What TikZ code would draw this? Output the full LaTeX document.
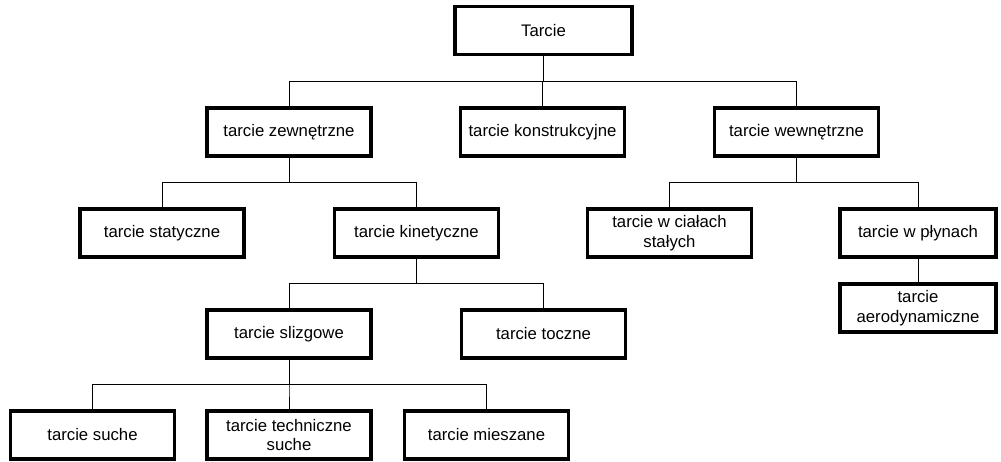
\documentclass[tikz,border=0pt]{standalone}
\usepackage{fontspec}
\setmainfont{Liberation Sans}
\usepackage{tikz}
\usetikzlibrary{calc}

\begin{document}
\begin{tikzpicture}[x=0.025cm,y=-0.025cm,
  box/.style={draw,line width=2.5pt,align=center,font=\fontsize{11.9}{14.2}\selectfont,minimum width=4.1cm,minimum height=1.2cm,inner sep=2pt},
  link/.style={line width=0.6pt}]
\useasboundingbox (0,0) rectangle (1001,461);
\node[box,minimum width=4.42cm] (tarcie) at (543.5,30.5) {Tarcie};
\node[box] (zew) at (289,132) {tarcie zewnętrzne};
\node[box] (kon) at (542.5,132) {tarcie konstrukcyjne};
\node[box] (wew) at (796.5,132) {tarcie wewnętrzne};
\node[box] (stat) at (162,233) {tarcie statyczne};
\node[box] (kin) at (416.5,233) {tarcie kinetyczne};
\node[box] (cial) at (669.5,233) {tarcie w ciałach\\ stałych};
\node[box,minimum width=3.9cm] (plyn) at (918,233) {tarcie w płynach};
\node[box,minimum width=3.9cm] (aero) at (918,308) {tarcie\\ aerodynamiczne};
\node[box] (slizg) at (289,334) {tarcie slizgowe};
\node[box] (tocz) at (543.5,334) {tarcie toczne};
\node[box] (such) at (92.5,435) {tarcie suche};
\node[box] (tech) at (289,435) {tarcie techniczne\\ suche};
\node[box] (mies) at (486.5,435) {tarcie mieszane};
% tree links
\foreach \p/\c in {tarcie/zew,tarcie/kon,tarcie/wew,zew/stat,zew/kin,wew/cial,wew/plyn,kin/slizg,kin/tocz,slizg/such,slizg/tech,slizg/mies}
  \draw[link] (\p.south) -- ++(0,25) -| (\c.north);
\draw[link] (plyn) -- (aero);
\end{tikzpicture}
\end{document}
